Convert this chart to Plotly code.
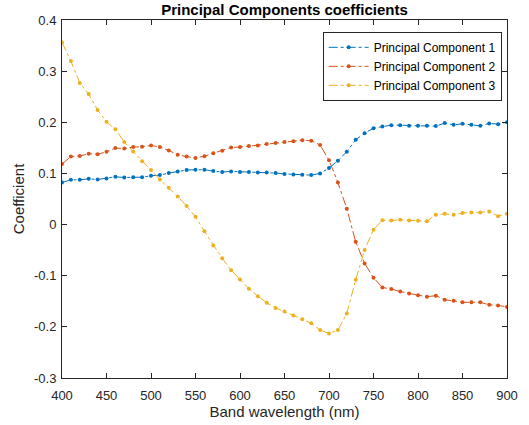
import plotly.graph_objects as go

wavelength = list(range(400, 901, 10))

pc1 = [0.0822, 0.0875, 0.0875, 0.0894, 0.0881, 0.0901, 0.0934, 0.0921, 0.0927, 0.0927,
       0.0954, 0.0967, 0.1007, 0.1040, 0.1066, 0.1072, 0.1072, 0.1046, 0.1026, 0.1040,
       0.1026, 0.1026, 0.1020, 0.1020, 0.1007, 0.0990, 0.0980, 0.0974, 0.0967, 0.1000,
       0.1105, 0.1250, 0.1426, 0.1660, 0.1787, 0.1885, 0.1918, 0.1944, 0.1944, 0.1930,
       0.1930, 0.1930, 0.1925, 0.1984, 0.1950, 0.1970, 0.1950, 0.1930, 0.1977, 0.1964,
       0.2003]

pc2 = [0.1185, 0.1330, 0.1343, 0.1383, 0.1376, 0.1422, 0.1495, 0.1488, 0.1515, 0.1521,
       0.1548, 0.1515, 0.1449, 0.1363, 0.1330, 0.1304, 0.1337, 0.1396, 0.1442, 0.1508,
       0.1515, 0.1535, 0.1548, 0.1574, 0.1594, 0.1614, 0.1630, 0.1650, 0.1640, 0.1557,
       0.1260, 0.0825, 0.0310, -0.0337, -0.0759, -0.1040, -0.1230, -0.1260, -0.1310, -0.1350,
       -0.1380, -0.1410, -0.1390, -0.1470, -0.1490, -0.1520, -0.1520, -0.1520, -0.1570, -0.1580,
       -0.1610]

pc3 = [0.3560, 0.3198, 0.2769, 0.2551, 0.2240, 0.2010, 0.1865, 0.1614, 0.1429, 0.1237,
       0.1066, 0.0880, 0.0720, 0.0548, 0.0363, 0.0152, -0.0132, -0.0409, -0.0660, -0.0891,
       -0.1076, -0.1254, -0.1400, -0.1530, -0.1630, -0.1700, -0.1780, -0.1850, -0.1930, -0.2060,
       -0.2130, -0.2060, -0.1740, -0.1080, -0.0495, -0.0099, 0.0086, 0.0079, 0.0092, 0.0079,
       0.0073, 0.0066, 0.0190, 0.0210, 0.0190, 0.0224, 0.0238, 0.0238, 0.0257, 0.0165,
       0.0210]

series_names = ["Principal Component 1", "Principal Component 2", "Principal Component 3"]
series_colors = ["#0072BD", "#D95319", "#EDB120"]

x_ticks = [400, 450, 500, 550, 600, 650, 700, 750, 800, 850, 900]
y_ticks = [-0.3, -0.2, -0.1, 0, 0.1, 0.2, 0.3, 0.4]
y_tick_labels = ["-0.3", "-0.2", "-0.1", "0", "0.1", "0.2", "0.3", "0.4"]

FONT = "Liberation Sans, Arial, sans-serif"
TXT = "#262626"

fig = go.Figure()
for name, vals, col in zip(series_names, [pc1, pc2, pc3], series_colors):
    fig.add_trace(go.Scatter(
        x=wavelength, y=vals, name=name, mode="lines+markers",
        line=dict(color=col, width=1, dash="dashdot"),
        marker=dict(color=col, size=4, symbol="circle"),
    ))

axis_common = dict(
    showline=True, linecolor=TXT, linewidth=1, mirror="ticks",
    ticks="inside", ticklen=5, tickcolor=TXT, tickwidth=1,
    showgrid=False, zeroline=False, automargin=False,
    tickfont=dict(family=FONT, size=13, color=TXT),
)

fig.update_xaxes(range=[400, 900], tickvals=x_ticks, ticklabelstandoff=5,
                 title=dict(text="Band wavelength (nm)", standoff=4,
                            font=dict(family=FONT, size=15, color=TXT)),
                 **axis_common)
fig.update_yaxes(range=[-0.3, 0.4], tickvals=y_ticks, ticktext=y_tick_labels, ticklabelstandoff=2,
                 title=dict(text="Coefficient", standoff=5,
                            font=dict(family=FONT, size=15, color=TXT)),
                 **axis_common)

fig.update_layout(
    width=529, height=425,
    margin=dict(l=62, r=22, t=20, b=47),
    paper_bgcolor="white", plot_bgcolor="white",
    title=dict(text="<b>Principal Components coefficients</b>", x=(62 + 507) / 2 / 529, xanchor="center",
               y=1 - 10 / 425, yanchor="middle",
               font=dict(family=FONT, size=15, color="black")),
    legend=dict(x=0.988, xanchor="right", y=0.967, yanchor="top",
                bgcolor="white", bordercolor=TXT, borderwidth=1,
                font=dict(family=FONT, size=12, color="black"),
                tracegroupgap=0, itemwidth=40),
    showlegend=True,
)

fig.write_html("out.html")
